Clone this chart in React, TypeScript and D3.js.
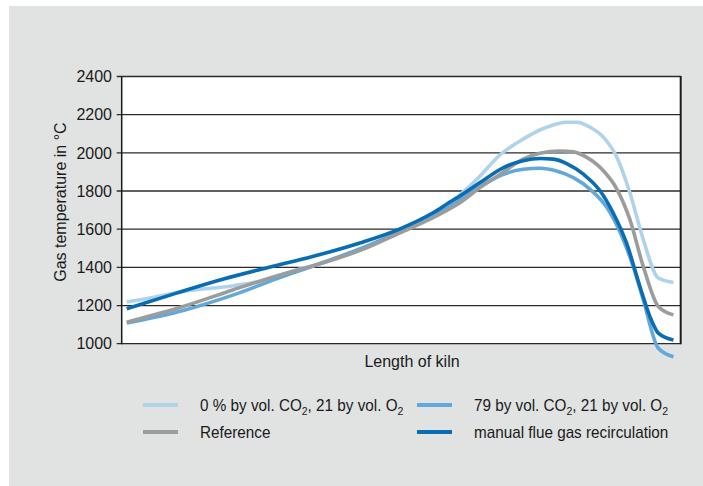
import React from "react";
import * as d3 from "d3";

// ---- data (x = position along kiln, 0..100 % ; y = gas temperature in °C)
const lightX = [0.9, 6, 10.5, 20, 25.9, 31.9, 34.9, 43.8, 49.8, 55.7, 60.5, 63.5, 67.7, 71.8, 76, 79.6, 81.4, 83.8, 86.2, 88.6, 90.9, 93.3, 96, 98.7];
const lightY = [1218, 1245, 1272, 1304, 1335, 1392, 1414, 1505, 1590, 1675, 1780, 1860, 1990, 2072, 2134, 2160, 2160, 2134, 2081, 1976, 1792, 1546, 1344, 1321];

const grayX = [0.9, 11, 20, 28.9, 34.9, 43.8, 49.8, 55.7, 58.7, 60.5, 64.1, 67.7, 71.8, 74.8, 78.4, 80.8, 83.2, 86.2, 88.6, 90.9, 93.3, 96, 98.7];
const grayY = [1113, 1195, 1283, 1365, 1414, 1502, 1581, 1660, 1707, 1739, 1818, 1888, 1967, 1998, 2010, 2005, 1976, 1905, 1809, 1651, 1405, 1195, 1151];

const midX = [0.9, 11, 20, 28.9, 34.9, 43.8, 49.8, 55.7, 58.7, 60.5, 64.1, 68.3, 71.8, 74.8, 77.8, 80.8, 83.8, 86.8, 89.2, 91.5, 93.3, 96, 98.7];
const midY = [1108, 1174, 1256, 1353, 1414, 1511, 1589, 1677, 1725, 1756, 1823, 1888, 1914, 1919, 1905, 1870, 1809, 1713, 1581, 1405, 1230, 976, 932];

const darkX = [0.9, 9.8, 18.2, 25.9, 34.3, 42.6, 49.8, 55.7, 58.7, 60.5, 64.1, 68.3, 71.8, 74.8, 77.2, 79.6, 82.6, 85.6, 87.9, 90.3, 92.7, 94.5, 96, 98.7];
const darkY = [1183, 1265, 1339, 1397, 1458, 1528, 1602, 1686, 1742, 1774, 1844, 1923, 1958, 1970, 1967, 1944, 1888, 1800, 1686, 1528, 1300, 1142, 1055, 1019];

const yTicks = [1000, 1200, 1400, 1600, 1800, 2000, 2200, 2400];

const seriesNames = [
  "0 % by vol. CO2, 21 by vol. O2",
  "Reference",
  "79 by vol. CO2, 21 by vol. O2",
  "manual flue gas recirculation",
];

const COLORS = {
  light: "#aed3ea",
  gray: "#9b9c9c",
  mid: "#62a8da",
  dark: "#0a6db3",
};

const FONT = "'Liberation Sans', Arial, sans-serif";

function Sub({ text }: { text: string }) {
  // render "CO2"/"O2" with subscript 2
  const parts = text.split(/(CO2|O2)/).filter((p) => p !== "");
  let lowered = false;
  const out: React.ReactNode[] = [];
  parts.forEach((p, i) => {
    if (p === "CO2" || p === "O2") {
      out.push(
        <tspan key={i + "b"} dy={lowered ? -4 : undefined}>{p.slice(0, -1)}</tspan>
      );
      out.push(
        <tspan key={i + "s"} fontSize={11} dy={4}>2</tspan>
      );
      lowered = true;
    } else {
      out.push(
        <tspan key={i} dy={lowered ? -4 : undefined}>{p}</tspan>
      );
      lowered = false;
    }
  });
  return <>{out}</>;
}

export default function App() {
  const W = 703;
  const H = 486;
  const left = 121.7;
  const right = 680.7;
  const top = 76.5;
  const bottom = 343.7;

  const x = d3.scaleLinear().domain([0, 100]).range([left, right]);
  const y = d3.scaleLinear().domain([1000, 2400]).range([bottom, top]);

  const line = d3
    .line<[number, number]>()
    .x((d) => x(d[0]))
    .y((d) => y(d[1]))
    .curve(d3.curveMonotoneX);

  const zip = (xs: number[], ys: number[]) => xs.map((v, i) => [v, ys[i]] as [number, number]);

  const series = [
    { key: "light", data: zip(lightX, lightY), color: COLORS.light },
    { key: "mid", data: zip(midX, midY), color: COLORS.mid },
    { key: "gray", data: zip(grayX, grayY), color: COLORS.gray },
    { key: "dark", data: zip(darkX, darkY), color: COLORS.dark },
  ];

  const legend = [
    { name: seriesNames[0], color: COLORS.light, lx: 143, ly: 405 },
    { name: seriesNames[1], color: COLORS.gray, lx: 143, ly: 432 },
    { name: seriesNames[2], color: COLORS.mid, lx: 417, ly: 405 },
    { name: seriesNames[3], color: COLORS.dark, lx: 417, ly: 432 },
  ];

  return (
    <svg
      width={W}
      height={H}
      style={{ position: "absolute", left: 0, top: 0, display: "block" }}
      fontFamily={FONT}
    >
      <rect x={0} y={0} width={W} height={H} fill="#ffffff" />
      <rect x={9} y={6} width={W - 9} height={H - 6} fill="#e1e3e2" />
      <rect x={left} y={top} width={right - left} height={bottom - top} fill="#ffffff" />

      {/* grid lines and ticks */}
      {yTicks.map((t) => (
        <g key={t}>
          <line x1={left - 5} x2={right} y1={y(t)} y2={y(t)} stroke="#2b2b2b" strokeWidth={1.3} />
          <text x={112} y={y(t)} dy="0.36em" textAnchor="end" fontSize={16} fill="#1a1a1a">
            {t}
          </text>
        </g>
      ))}
      <line x1={left} x2={left} y1={top} y2={bottom + 0.6} stroke="#1a1a1a" strokeWidth={1.5} />
      <line x1={right} x2={right} y1={top - 0.6} y2={bottom + 0.6} stroke="#1a1a1a" strokeWidth={2} />

      {/* series */}
      {series.map((s) => (
        <path
          key={s.key}
          d={line(s.data) || ""}
          fill="none"
          stroke={s.color}
          strokeWidth={3.6}
          strokeLinejoin="round"
          strokeLinecap="butt"
        />
      ))}

      {/* axis titles */}
      <text
        transform={`translate(66, ${(top + bottom) / 2 - 8}) rotate(-90)`}
        textAnchor="middle"
        fontSize={16}
        fill="#1a1a1a"
      >
        Gas temperature in °C
      </text>
      <text x={412} y={367} textAnchor="middle" fontSize={16} fill="#1a1a1a">
        Length of kiln
      </text>

      {/* legend */}
      {legend.map((l) => (
        <g key={l.name}>
          <line x1={l.lx} x2={l.lx + 35} y1={l.ly} y2={l.ly} stroke={l.color} strokeWidth={4} />
          <text
            transform={`translate(${l.lx + 57}, ${l.ly + 5.8}) scale(0.955, 1)`}
            fontSize={16}
            fill="#1a1a1a"
          >
            <Sub text={l.name} />
          </text>
        </g>
      ))}
    </svg>
  );
}
